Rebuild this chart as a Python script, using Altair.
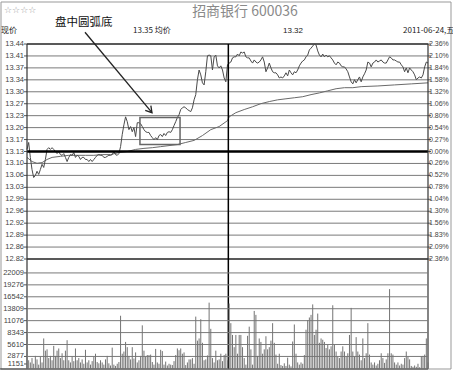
import altair as alt
import pandas as pd

# ---------------- data ----------------
PREV_CLOSE = 13.13
HALF_RANGE = 0.31

price = [
    13.136, 13.156, 13.113, 13.078, 13.055, 13.061, 13.073, 13.064, 13.078, 13.093,
    13.084, 13.107, 13.136, 13.141, 13.136, 13.141, 13.136, 13.130, 13.124, 13.130,
    13.121, 13.119, 13.124, 13.113, 13.101, 13.113, 13.121, 13.119, 13.127, 13.113,
    13.119, 13.116, 13.107, 13.113, 13.113, 13.107, 13.107, 13.101, 13.107, 13.101,
    13.107, 13.113, 13.119, 13.121, 13.119, 13.119, 13.113, 13.113, 13.116, 13.119,
    13.119, 13.121, 13.130, 13.121, 13.119, 13.124, 13.144, 13.179, 13.207, 13.230,
    13.216, 13.193, 13.202, 13.187, 13.199, 13.173, 13.213, 13.213, 13.210, 13.202,
    13.193, 13.187, 13.185, 13.185, 13.176, 13.170, 13.164, 13.170, 13.164, 13.176,
    13.179, 13.173, 13.182, 13.176, 13.185, 13.187, 13.185, 13.193, 13.205, 13.216,
    13.228, 13.236, 13.251, 13.256, 13.259, 13.256, 13.251, 13.248, 13.245, 13.256,
    13.279, 13.294, 13.337, 13.365, 13.351, 13.328, 13.322, 13.360, 13.406, 13.408,
    13.406, 13.365, 13.403, 13.408, 13.377, 13.371, 13.377, 13.365, 13.342, 13.331,
    13.380,
    13.385, 13.388, 13.400, 13.403, 13.403, 13.411, 13.406, 13.417, 13.414, 13.417,
    13.403, 13.400, 13.400, 13.391, 13.385, 13.394, 13.388, 13.385, 13.388, 13.394,
    13.403, 13.388, 13.360, 13.371, 13.385, 13.371, 13.360, 13.357, 13.357, 13.351,
    13.342, 13.345, 13.342, 13.348, 13.357, 13.348, 13.365, 13.357, 13.351, 13.360,
    13.357, 13.365, 13.377, 13.385, 13.391, 13.394, 13.403, 13.408, 13.423, 13.428,
    13.434, 13.440, 13.437, 13.420, 13.408, 13.403, 13.411, 13.403, 13.408, 13.403,
    13.406, 13.400, 13.394, 13.385, 13.380, 13.388, 13.385, 13.377, 13.374, 13.374,
    13.368, 13.360, 13.345, 13.331, 13.325, 13.337, 13.328, 13.337, 13.345, 13.331,
    13.345, 13.354, 13.365, 13.388, 13.385, 13.374, 13.385, 13.388, 13.394, 13.388,
    13.391, 13.394, 13.388, 13.385, 13.385, 13.394, 13.403, 13.400, 13.394, 13.394,
    13.391, 13.388, 13.388, 13.380, 13.374, 13.360, 13.371, 13.357, 13.371, 13.365,
    13.360, 13.351, 13.337, 13.342, 13.345, 13.342, 13.351, 13.374, 13.388, 13.385,
]

avg_minute = [0, 3, 6, 9, 12, 15, 20, 25, 30, 35, 40, 45, 50, 55, 60, 65, 70, 75, 80,
              85, 90, 95, 100, 105, 110, 115, 120, 121, 125, 130, 135, 140, 145, 150,
              155, 160, 165, 170, 175, 180, 185, 190, 195, 200, 210, 220, 230, 240]
avg_price = [13.113, 13.101, 13.096, 13.098, 13.107, 13.113, 13.116, 13.119, 13.119,
             13.119, 13.119, 13.121, 13.121, 13.127, 13.130, 13.136, 13.139, 13.141,
             13.144, 13.147, 13.150, 13.156, 13.162, 13.176, 13.193, 13.202, 13.219,
             13.230, 13.242, 13.251, 13.259, 13.268, 13.274, 13.279, 13.282, 13.285,
             13.288, 13.294, 13.299, 13.305, 13.311, 13.314, 13.314, 13.317, 13.319,
             13.322, 13.325, 13.328]

volume = [
    8000, 2000, 1500, 2500, 1200, 3000, 2200, 1000, 2800, 1500,
    7000, 4200, 4500, 2500, 3000, 2000, 5300, 3000, 4200, 4700,
    2500, 3600, 2000, 4200, 6600, 2000, 1500, 2800, 1800, 4700,
    2000, 2500, 1500, 2200, 1200, 4400, 1500, 2000, 1000, 1800,
    2800, 3500, 1600, 1300, 2000, 1500, 1000, 2200, 3000, 1300,
    800, 4900, 1000, 700, 1200, 1600, 12200, 3500, 4000, 6200,
    5000, 3000, 2200, 5000, 2400, 3800, 1500, 2000, 3000, 10000,
    4200, 2800, 3200, 3200, 3300, 1600, 1000, 4600, 1500, 1200,
    4400, 4100, 1000, 1700, 800, 1200, 1000, 900, 1800, 3200,
    4700, 4300, 4700, 3500, 3800, 900, 1500, 2200, 2200, 2500,
    1200, 12000, 6500, 7000, 11400, 6000, 2000, 2200, 3100, 15200,
    9200, 2500, 1500, 4200, 2000, 2200, 3500, 1800, 3200, 3500,
    2000,
    15000, 10500, 7800, 5000, 7800, 3500, 7800, 7800, 5000, 2500,
    1000, 7600, 9700, 4500, 1000, 13300, 12400, 3000, 7000, 6200,
    3500, 4500, 7500, 4500, 5000, 6500, 10500, 6000, 3300, 1200,
    3500, 900, 700, 1300, 700, 2600, 1000, 600, 6300, 10200,
    3500, 1500, 1000, 1500, 1200, 3200, 9000, 11200, 11800, 12400,
    14800, 7800, 9000, 12700, 6000, 7000, 6700, 6200, 4800, 5500,
    4500, 5200, 14600, 5500, 4000, 2800, 2500, 4000, 5200, 4000,
    2900, 3600, 7800, 14000, 4000, 2800, 7300, 4000, 3300, 2000,
    7000, 2500, 3600, 10500, 3300, 1500, 1000, 1500, 800, 1200,
    2000, 3600, 2500, 1400, 2200, 3600, 18300, 3600, 3300, 1500,
    1000, 1500, 800, 1200, 1000, 2500, 4000, 2800, 2200, 700,
    500, 800, 500, 1200, 400, 2900, 3000, 3300, 7000, 1500,
]

price_left_labels = ["12.82", "12.86", "12.89", "12.92", "12.96", "12.99", "13.03",
                     "13.06", "13.10", "13.13", "13.17", "13.20", "13.23", "13.27",
                     "13.30", "13.34", "13.37", "13.41", "13.44"]
price_right_labels = ["2.36%", "2.09%", "1.83%", "1.56%", "1.30%", "1.04%", "0.78%",
                      "0.52%", "0.26%", "0.00%", "0.27%", "0.54%", "0.80%", "1.06%",
                      "1.32%", "1.58%", "1.84%", "2.10%", "2.36%"]
vol_labels = ["1151", "2877", "5610", "8343", "11076", "13809", "16542", "19276", "22009"]

box_minutes = [67.6, 91.6]
box_prices = [13.150, 13.228]
arrow_minutes = [34.7, 74.8]
arrow_prices = [13.474, 13.242]

# ---------------- tables ----------------
n = len(price)
df_price = pd.DataFrame({"m": list(range(n)), "p": price})
df_avg = pd.DataFrame({"m": avg_minute, "p": avg_price})
df_vol = pd.DataFrame({"m": list(range(len(volume))), "v": volume})

step = HALF_RANGE / 9
df_ticks = pd.DataFrame({
    "v": [PREV_CLOSE + (k - 9) * step for k in range(19)],
    "left": price_left_labels,
    "right": price_right_labels,
})
df_grid = pd.concat([df_ticks.iloc[1:9], df_ticks.iloc[10:18]])
df_vticks = pd.DataFrame({"v": [int(s) for s in vol_labels], "label": vol_labels})
df_vgrid = df_vticks.iloc[1:]
df_box = pd.DataFrame({"m1": [box_minutes[0]], "m2": [box_minutes[1]],
                       "p1": [box_prices[0]], "p2": [box_prices[1]]})
df_arrow = pd.DataFrame({"m1": [arrow_minutes[0]], "m2": [arrow_minutes[1]],
                         "p1": [arrow_prices[0]], "p2": [arrow_prices[1]]})
df_head = pd.DataFrame({"m": [arrow_minutes[1]], "p": [arrow_prices[1]]})

# ---------------- scales ----------------
xs = alt.Scale(domain=[0, 240], nice=False, zero=False)
ps = alt.Scale(domain=[PREV_CLOSE - HALF_RANGE, PREV_CLOSE + HALF_RANGE],
               range=[215, 0], nice=False, zero=False)
vs = alt.Scale(domain=[0, 25200], range=[325, 215], nice=False, zero=False)

LBL_FONT = "Liberation Sans"
CJK = "Noto Sans CJK SC"
GRID = "#7a7a7a"
one = alt.Data(values=[{}])

def py(field="v"):
    return alt.Y(f"{field}:Q", scale=ps, axis=None)

def vy(field="v"):
    return alt.Y(f"{field}:Q", scale=vs, axis=None)

# price panel layers
grid = alt.Chart(df_grid).mark_rule(color=GRID, strokeWidth=1).encode(y=py())
zero_line = alt.Chart(df_ticks.iloc[[9]]).mark_rule(color="#000", strokeWidth=2.4).encode(y=py())
edge_lines = alt.Chart(df_ticks.iloc[[0, 18]]).mark_rule(color="#222", strokeWidth=1.6).encode(y=py())
left_ticks = alt.Chart(df_ticks).mark_rule(color="#555").encode(
    y=py(), x=alt.value(-3), x2=alt.value(0))
right_ticks = alt.Chart(df_ticks).mark_rule(color="#555").encode(
    y=py(), x=alt.value(401), x2=alt.value(404))
left_lbl = alt.Chart(df_ticks).mark_text(
    align="right", baseline="middle", font=LBL_FONT, fontSize=7.5, color="#444"
).encode(y=py(), x=alt.value(-3), text="left:N")
right_lbl = alt.Chart(df_ticks).mark_text(
    align="left", baseline="middle", font=LBL_FONT, fontSize=7, color="#444"
).encode(y=py(), x=alt.value(402), text="right:N")

avg_line = alt.Chart(df_avg).mark_line(color="#6a6a6a", strokeWidth=1).encode(
    x=alt.X("m:Q", scale=xs, axis=None), y=py("p"))
price_line = alt.Chart(df_price).mark_line(color="#4a4a4a", strokeWidth=1).encode(
    x=alt.X("m:Q", scale=xs, axis=None), y=py("p"))

box = alt.Chart(df_box).mark_rect(fillOpacity=0, stroke="#666", strokeWidth=1.5).encode(
    x=alt.X("m1:Q", scale=xs, axis=None), x2="m2:Q", y=py("p1"), y2="p2:Q")
arrow = alt.Chart(df_arrow).mark_rule(color="#222", strokeWidth=1.3).encode(
    x=alt.X("m1:Q", scale=xs, axis=None), x2="m2:Q", y=py("p1"), y2="p2:Q")
head = alt.Chart(df_head).mark_point(
    shape="M-0.6,1L0,0L0.6,1", filled=False, stroke="#222", strokeWidth=1.3,
    angle=140, size=150, opacity=1
).encode(x=alt.X("m:Q", scale=xs, axis=None), y=py("p"))

mid_line = alt.Chart(pd.DataFrame({"m": [120.5]})).mark_rule(color="#000", strokeWidth=1.5).encode(
    x=alt.X("m:Q", scale=xs, axis=None), y=alt.value(0), y2=alt.value(325))
side_lines = alt.Chart(pd.DataFrame({"m": [0, 240]})).mark_rule(color="#333", strokeWidth=1.2).encode(
    x=alt.X("m:Q", scale=xs, axis=None), y=alt.value(0), y2=alt.value(325))

def txt(s, x, y, size, color="#222", font=CJK, align="left", weight="normal"):
    return alt.Chart(one).mark_text(
        text=s, align=align, baseline="middle", font=font, fontSize=size,
        color=color, fontWeight=weight
    ).encode(x=alt.value(x), y=alt.value(y))

frame = alt.Chart(one).mark_rect(fillOpacity=0, stroke="#999", strokeWidth=1).encode(
    x=alt.value(-26), x2=alt.value(424), y=alt.value(-42), y2=alt.value(325))
bottom_line = alt.Chart(one).mark_rule(color="#333", strokeWidth=1.2).encode(
    x=alt.value(-27), x2=alt.value(401), y=alt.value(325))

headers = [
    txt("☆☆☆☆", -23, -34, 9, color="#999", font="DejaVu Sans"),
    txt("招商银行 600036", 218, -32, 14, color="#8a8a8a", align="center"),
    txt("盘中圆弧底", 28, -21, 11.5, color="#111"),
    txt("现价", -26, -13, 8, color="#222"),
    txt("13.35 均价", 106, -13, 8, color="#222"),
    txt("13.32", 256, -13, 8, color="#222", font=LBL_FONT),
    txt("2011-06-24,五", 376, -13, 8, color="#222"),
]

price_group = alt.layer(
    grid, edge_lines, left_ticks, right_ticks, left_lbl, right_lbl,
    avg_line, price_line, box, arrow, head, zero_line, mid_line, side_lines,
    frame, bottom_line, *headers
)

# volume panel layers
vgrid = alt.Chart(df_vgrid).mark_rule(color=GRID, strokeWidth=1).encode(y=vy())
vticks = alt.Chart(df_vticks).mark_rule(color="#555").encode(
    y=vy(), x=alt.value(-3), x2=alt.value(0))
vlbl = alt.Chart(df_vticks).mark_text(
    align="right", baseline="middle", font=LBL_FONT, fontSize=7.5, color="#444"
).encode(y=vy(), x=alt.value(-3), text="label:N")
bars = alt.Chart(df_vol).mark_rule(color="#747474", strokeWidth=1).encode(
    x=alt.X("m:Q", scale=xs, axis=None), y=vy(), y2=alt.datum(0))

vol_group = alt.layer(vgrid, vticks, vlbl, bars)

chart = alt.layer(price_group, vol_group).resolve_scale(y="independent").properties(
    width=401, height=324,
    autosize=alt.AutoSizeParams(type="none"),
    padding={"left": 27, "top": 44, "right": 25, "bottom": 3},
).configure_view(strokeWidth=0)

chart.save("out.html", embed_options={"renderer": "svg", "actions": False})
